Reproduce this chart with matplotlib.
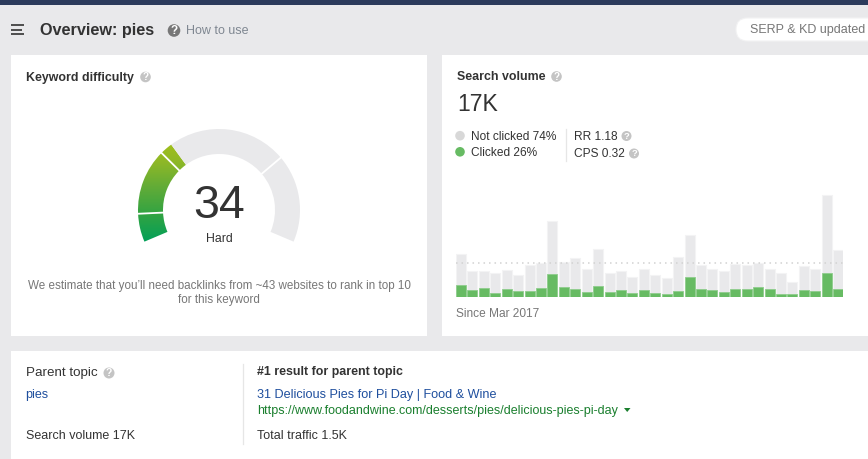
import numpy as np
import matplotlib
matplotlib.use("Agg")
import matplotlib.pyplot as plt
from matplotlib.patches import Rectangle, FancyBboxPatch, Circle, Wedge, Polygon
from matplotlib.colors import LinearSegmentedColormap

plt.rcParams['font.family'] = ['Liberation Sans', 'DejaVu Sans']

# ---- data ----
total_volume = [21.3, 13, 12.8, 11.8, 13.3, 10.8, 15.8, 17.2, 38, 17.7, 19.7, 14, 24.2, 11.8, 12.8, 10, 14,
                11, 9.3, 19.8, 30.8, 16, 14, 13, 16.3, 15.8, 17, 14, 11.8, 7.5, 15.7, 14, 51, 23.7]
clicked_volume = [6.2, 3.7, 4.5, 2.2, 3.8, 2.8, 3.2, 4.7, 11.5, 5.2, 3.8, 2.5, 5.3, 2.3, 3.3, 1.8, 3.7,
                  1.8, 1.3, 2.8, 9.8, 3.8, 3.3, 2.5, 3.8, 4, 4.8, 3.8, 1.5, 1.3, 3.3, 2.8, 11.8, 3.8]
average_volume = 17
difficulty = 34
gauge_stops = [0, 9, 30, 72, 100]

W, H = 868, 459
BG, GREY, GREEN = '#e9e9eb', '#e9e9eb', '#67bb63'
INK, MUTED, LINK, URL = '#333333', '#777777', '#1f4f9e', '#1a7f2e'

fig = plt.figure(figsize=(W / 100, H / 100), dpi=100, facecolor=BG)


def px_axes(left, top, right, bottom, **kw):
    return fig.add_axes([left / W, 1 - bottom / H, (right - left) / W, (bottom - top) / H], **kw)


# page layer in pixel coordinates
page = px_axes(0, 0, W, H)
page.set_xlim(0, W)
page.set_ylim(H, 0)
page.axis('off')

page.add_patch(Rectangle((0, 0), W, 5, fc='#2b3a5b', ec='none'))
for x, y, w, h in [(11, 55, 416, 281), (442, 55, 426, 281), (11, 351, 857, 108)]:
    page.add_patch(Rectangle((x, y), w, h, fc='white', ec='none'))
page.add_patch(FancyBboxPatch((736, 18), 150, 23, boxstyle='round,pad=0,rounding_size=11.5',
                              mutation_aspect=1, fc='white', ec='#f2f2f3', lw=0.8))

# hamburger icon
for y, x1 in [(25, 24), (29.7, 22), (34.3, 24)]:
    page.plot([11, x1], [y, y], color='#333333', lw=1.2, solid_capstyle='butt')


def txt(x, y, s, size=8.6, color=INK, weight='normal', ha='left'):
    return page.text(x, y + 1.2, s, fontsize=size, color=color, weight=weight, ha=ha, va='center')


def qmark(x, y, r=5.3, color='#c4c4c4'):
    page.add_patch(Circle((x, y), r, fc=color, ec='none'))
    page.text(x, y + 0.2, '?', color='white', fontsize=r * 1.35, weight='bold', ha='center', va='center')


txt(40, 29.5, 'Overview: pies', size=11.7, weight='bold')
qmark(174, 30.5, r=6.3, color='#777777')
txt(186.5, 30, 'How to use', size=9, color='#7f8791')
txt(750, 29.2, 'SERP & KD updated', size=9, color='#777777')

txt(26, 76.3, 'Keyword difficulty', size=8.9, weight='bold')
qmark(145.5, 77)
txt(219, 285, 'We estimate that you’ll need backlinks from ~43 websites to rank in top 10',
    size=8.37, color=MUTED, ha='center')
txt(219, 299, 'for this keyword', size=8.37, color=MUTED, ha='center')

txt(457.3, 76.2, 'Search volume', size=8.9, weight='bold')
qmark(556.5, 76.5)
txt(457, 103, '17K', size=16.6)
page.add_patch(Circle((460, 135.7), 4.8, fc='#d8d8d8', ec='none'))
page.add_patch(Circle((460, 151.8), 4.8, fc=GREEN, ec='none'))
txt(470.8, 135.3, 'Not clicked 74%', size=8.55)
txt(470.8, 151.3, 'Clicked 26%', size=8.55)
page.plot([565.5, 565.5], [129, 161], color='#e6e6e6', lw=0.9)
txt(573.5, 135.3, 'RR 1.18', size=8.6)
txt(573.5, 153, 'CPS 0.32', size=8.6)
qmark(626.5, 136, r=5)
qmark(634, 153.5, r=5)
txt(456.5, 312.8, 'Since Mar 2017', size=8.6, color=MUTED)

# parent topic card
txt(26, 372, 'Parent topic', size=9.6)
qmark(109, 373, r=5.5)
txt(25.5, 394, 'pies', size=9, color=LINK)
txt(26, 435, 'Search volume 17K', size=9)
page.plot([242.5, 242.5], [364, 444], color='#e6e6e6', lw=0.9)
txt(257.3, 371, '#1 result for parent topic', size=8.95, weight='bold')
txt(257.3, 394, '31 Delicious Pies for Pi Day | Food & Wine', size=9.05, color=LINK)
txt(257.3, 410, 'https://www.foodandwine.com/desserts/pies/delicious-pies-pi-day', size=9.02, color=URL)
page.add_patch(Polygon([(624, 408), (630.5, 408), (627.2, 412)], fc=URL, ec='none'))
txt(257.3, 435, 'Total traffic 1.5K', size=9)

# ---- search volume bars ----
bars = px_axes(456, 190, 843.5, 297)
bars.patch.set_alpha(0)
positions = np.arange(len(total_volume))
bars.bar(positions, total_volume, width=0.87, color=GREY, edgecolor='#f3f3f4', linewidth=0.8)
bars.bar(positions, clicked_volume, width=0.87, color=GREEN, edgecolor='#8fcd8c', linewidth=0.6)
bars.axhline(average_volume, color='#d2d2d2', lw=1.1, ls=(0, (1, 2.6)), zorder=3)
bars.set_xlim(-0.435, 33.47)
bars.set_ylim(0, 53.5)
bars.axis('off')

# ---- gauge ----
gauge = px_axes(129, 120, 309, 300)
gauge.patch.set_alpha(0)
gauge.set_xlim(-90, 90)
gauge.set_ylim(-90, 90)
gauge.axis('off')
OUTER, INNER = 81, 56
START, SWEEP = 203, 226


def ang(v):
    return START - SWEEP * v / 100


cmap = LinearSegmentedColormap.from_list('kd', ['#00a05a', '#2fa343', '#5fab38', '#8fb827', '#aac214'])
grad = np.linspace(0, 1, 256)[:, None]
for lo, hi in zip(gauge_stops[:-1], gauge_stops[1:]):
    end = min(hi, difficulty)
    if lo < difficulty:
        w = Wedge((0, 0), OUTER, ang(end), ang(lo), width=OUTER - INNER, fc='none', ec='none')
        gauge.add_patch(w)
        im = gauge.imshow(grad, cmap=cmap, extent=(-90, 90, -33, 76), origin='lower', aspect='auto')
        im.set_clip_path(w)
    if hi > difficulty:
        gauge.add_patch(Wedge((0, 0), OUTER, ang(hi), ang(max(lo, difficulty)),
                              width=OUTER - INNER, fc=GREY, ec='none'))
gauge.set_xlim(-90, 90)
gauge.set_ylim(-90, 90)
for s in gauge_stops[1:-1]:
    a = np.deg2rad(ang(s))
    gauge.plot([(INNER - 1) * np.cos(a), (OUTER + 1) * np.cos(a)],
               [(INNER - 1) * np.sin(a), (OUTER + 1) * np.sin(a)], color='white', lw=1.3)
gauge.text(0, 3.5, str(difficulty), fontsize=33.5, color=INK, ha='center', va='center')
gauge.text(0, -28.5, 'Hard', fontsize=8.8, color=INK, ha='center', va='center')

fig.savefig('out.png', dpi=100, facecolor=BG)
